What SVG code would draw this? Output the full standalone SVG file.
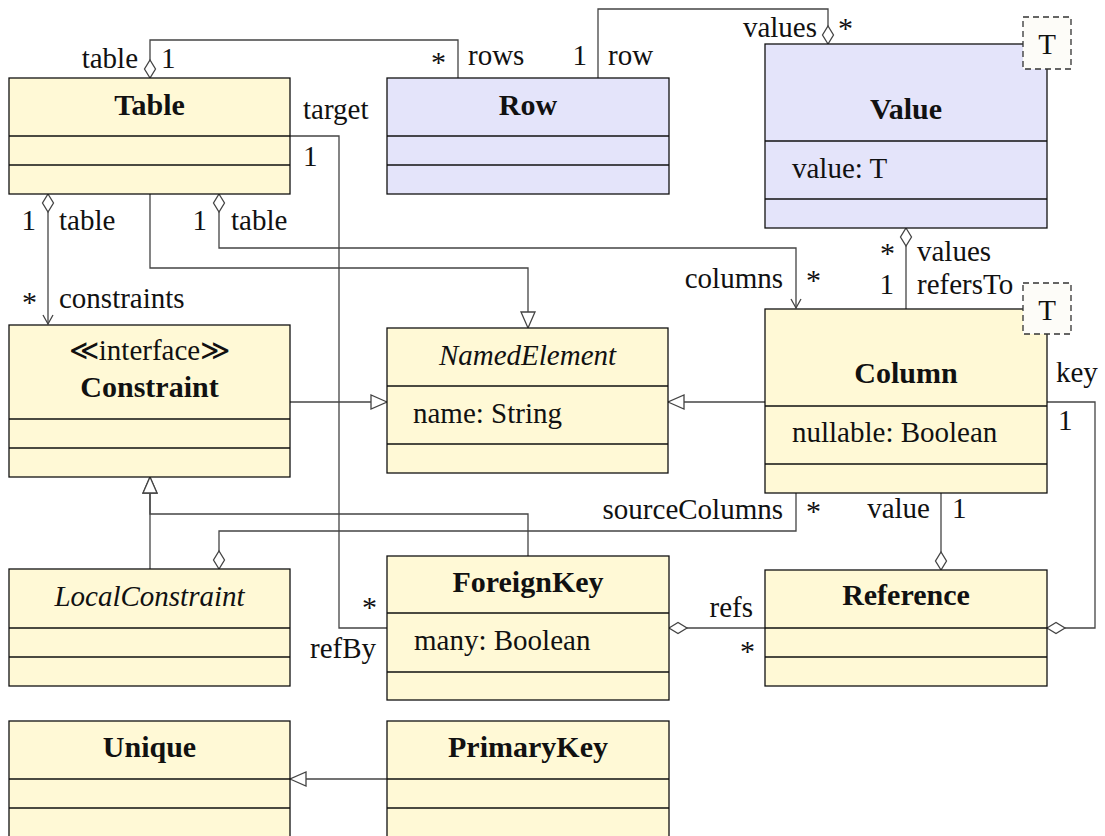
<svg xmlns="http://www.w3.org/2000/svg" width="1105" height="836" viewBox="0 0 1105 836">
<style>
.box{stroke:#111;stroke-width:1.3}
.y{fill:#fff9d6}
.bl{fill:#e4e4fa}
.div{stroke:#111;stroke-width:1.3}
.tpl{fill:#fdfcf8;stroke:#333;stroke-width:1.3;stroke-dasharray:6 4}
.t{font-family:'Liberation Serif','DejaVu Serif',serif;font-size:29px;fill:#111}
.b{font-weight:bold;font-size:30px}
.i{font-style:italic}
.m{text-anchor:middle}
.e{text-anchor:end}
.s{font-size:30px}
.c{fill:none;stroke:#444;stroke-width:1.3}
</style>
<defs>
<marker id="dia" markerUnits="userSpaceOnUse" markerWidth="20" markerHeight="12" orient="auto" overflow="visible">
<path d="M0,0 L9,-5.5 L18,0 L9,5.5 Z" fill="#fff" stroke="#444" stroke-width="1.3"/>
</marker>
<marker id="tri" markerUnits="userSpaceOnUse" markerWidth="18" markerHeight="16" orient="auto" overflow="visible">
<path d="M0,0 L-16,-7 L-16,7 Z" fill="#fff" stroke="#444" stroke-width="1.3"/>
</marker>
<marker id="arr" markerUnits="userSpaceOnUse" markerWidth="10" markerHeight="12" orient="auto" overflow="visible">
<path d="M-9,-5 L0,0 L-9,5" fill="none" stroke="#444" stroke-width="1.3"/>
</marker>
</defs>

<g id="connectors">
<path class="c" d="M150,78 V40 H458 V78" marker-start="url(#dia)"/>
<path class="c" d="M828,44 V9 H598 V78" marker-start="url(#dia)"/>
<path class="c" d="M48,194 V324" marker-start="url(#dia)" marker-end="url(#arr)"/>
<path class="c" d="M150,194 V268 H528 V328" marker-end="url(#tri)"/>
<path class="c" d="M219,194 V248 H796 V308" marker-start="url(#dia)" marker-end="url(#arr)"/>
<path class="c" d="M290,136 H339 V628 H387"/>
<path class="c" d="M290,402 H387" marker-end="url(#tri)"/>
<path class="c" d="M765,402 H668" marker-end="url(#tri)"/>
<path class="c" d="M906,228 V309" marker-start="url(#dia)"/>
<path class="c" d="M150,569 V477" marker-end="url(#tri)"/>
<path class="c" d="M528,556 V514 H150 V477" marker-end="url(#tri)"/>
<path class="c" d="M219,569 V531 H796 V493" marker-start="url(#dia)"/>
<path class="c" d="M941,570 V493" marker-start="url(#dia)"/>
<path class="c" d="M1047,628 H1095 V402 H1047" marker-start="url(#dia)"/>
<path class="c" d="M669,628 H765" marker-start="url(#dia)"/>
<path class="c" d="M387,779 H290" marker-end="url(#tri)"/>
</g>

<g id="labels">
<text class="t e" x="138" y="68">table</text>
<text class="t" x="161" y="68">1</text>
<text class="t s e" x="446" y="72">*</text>
<text class="t" x="468" y="65">rows</text>
<text class="t e" x="587" y="65">1</text>
<text class="t" x="608" y="65">row</text>
<text class="t e" x="817" y="37">values</text>
<text class="t s" x="838" y="38">*</text>
<text class="t" x="303" y="119">target</text>
<text class="t" x="303" y="166">1</text>
<text class="t e" x="36" y="230">1</text>
<text class="t" x="59" y="230">table</text>
<text class="t e" x="207" y="230">1</text>
<text class="t" x="231" y="230">table</text>
<text class="t s e" x="37" y="312">*</text>
<text class="t" x="59" y="308">constraints</text>
<text class="t e" x="783" y="288">columns</text>
<text class="t s" x="806" y="290">*</text>
<text class="t s e" x="895" y="263">*</text>
<text class="t" x="917" y="261">values</text>
<text class="t e" x="894" y="294">1</text>
<text class="t" x="917" y="294">refersTo</text>
<text class="t" x="1056" y="382">key</text>
<text class="t" x="1058" y="430">1</text>
<text class="t e" x="783" y="519">sourceColumns</text>
<text class="t s" x="806" y="521">*</text>
<text class="t e" x="930" y="518">value</text>
<text class="t" x="952" y="518">1</text>
<text class="t s e" x="377" y="617">*</text>
<text class="t e" x="376" y="658">refBy</text>
<text class="t e" x="753" y="617">refs</text>
<text class="t s e" x="755" y="661">*</text>
</g>

<g id="Table">
<rect class="box y" x="9" y="78" width="281" height="116"/>
<path class="div" d="M9,136 H290 M9,165 H290"/>
<text class="t b m" x="149.5" y="115">Table</text>
</g>

<g id="Row">
<rect class="box bl" x="387" y="78" width="282" height="116"/>
<path class="div" d="M387,136 H669 M387,165 H669"/>
<text class="t b m" x="528" y="115">Row</text>
</g>

<g id="Value">
<rect class="box bl" x="765" y="44" width="282" height="184"/>
<path class="div" d="M765,141 H1047 M765,199 H1047"/>
<text class="t b m" x="906" y="119">Value</text>
<text class="t" x="792" y="178">value: T</text>
<rect class="tpl" x="1023" y="17" width="48" height="52"/>
<text class="t m" x="1047" y="54">T</text>
</g>

<g id="Constraint">
<rect class="box y" x="9" y="325" width="281" height="152"/>
<path class="div" d="M9,419 H290 M9,448 H290"/>
<text class="t m" x="149.5" y="360">≪interface≫</text>
<text class="t b m" x="149.5" y="397">Constraint</text>
</g>

<g id="NamedElement">
<rect class="box y" x="387" y="328" width="281" height="145"/>
<path class="div" d="M387,386 H668 M387,444 H668"/>
<text class="t i m" x="527.5" y="365">NamedElement</text>
<text class="t" x="413" y="423">name: String</text>
</g>

<g id="Column">
<rect class="box y" x="765" y="309" width="282" height="184"/>
<path class="div" d="M765,406 H1047 M765,464 H1047"/>
<text class="t b m" x="906" y="383">Column</text>
<text class="t" x="792" y="442">nullable: Boolean</text>
<rect class="tpl" x="1023" y="283" width="48" height="51"/>
<text class="t m" x="1047" y="320">T</text>
</g>

<g id="LocalConstraint">
<rect class="box y" x="9" y="569" width="281" height="117"/>
<path class="div" d="M9,628 H290 M9,657 H290"/>
<text class="t i m" x="149.5" y="606">LocalConstraint</text>
</g>

<g id="ForeignKey">
<rect class="box y" x="387" y="556" width="282" height="144"/>
<path class="div" d="M387,613 H669 M387,672 H669"/>
<text class="t b m" x="528" y="592">ForeignKey</text>
<text class="t" x="414" y="650">many: Boolean</text>
</g>

<g id="Reference">
<rect class="box y" x="765" y="570" width="282" height="116"/>
<path class="div" d="M765,628 H1047 M765,657 H1047"/>
<text class="t b m" x="906" y="605">Reference</text>
</g>

<g id="Unique">
<rect class="box y" x="9" y="721" width="281" height="117"/>
<path class="div" d="M9,779 H290 M9,808 H290"/>
<text class="t b m" x="149.5" y="757">Unique</text>
</g>

<g id="PrimaryKey">
<rect class="box y" x="387" y="721" width="282" height="117"/>
<path class="div" d="M387,779 H669 M387,808 H669"/>
<text class="t b m" x="528" y="757">PrimaryKey</text>
</g>
</svg>
